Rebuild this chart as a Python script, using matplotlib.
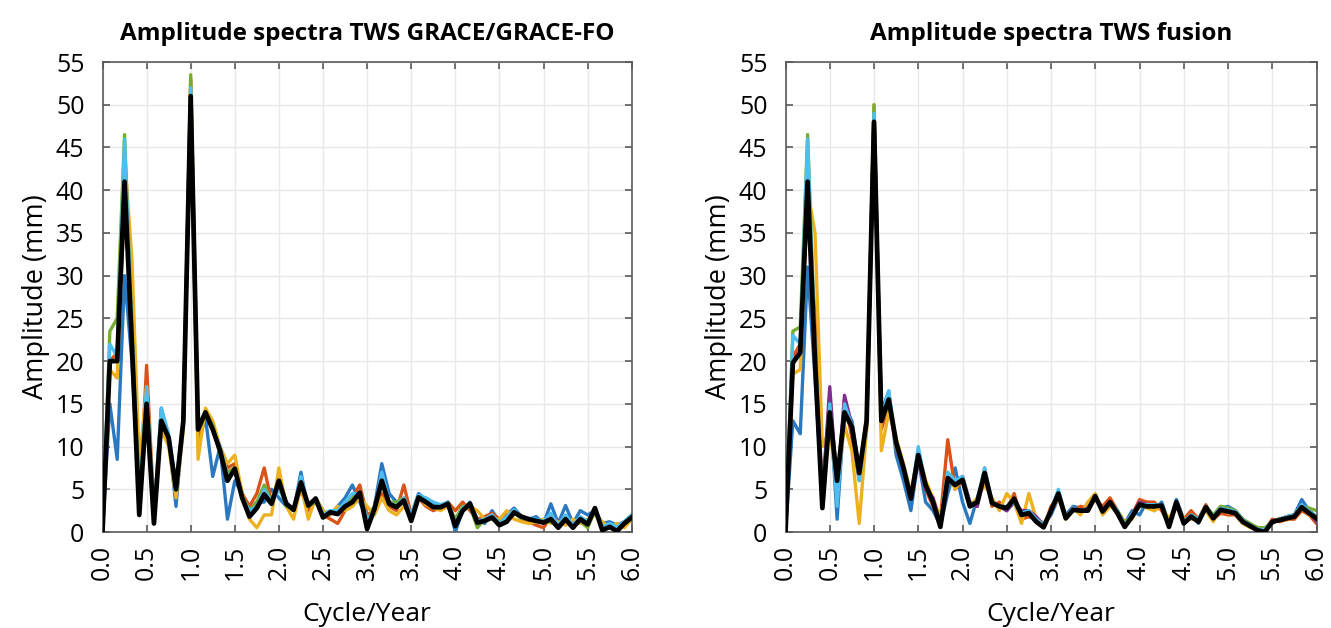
import numpy as np
import matplotlib
matplotlib.use("Agg")
import matplotlib.pyplot as plt

# ---------------- data ----------------
freq_step = 1.0 / 12.0
n_freq = 73
freq = np.arange(n_freq) * freq_step  # cycle/year

titles = ["Amplitude spectra TWS GRACE/GRACE-FO", "Amplitude spectra TWS fusion"]
x_ticks = [0.0, 0.5, 1.0, 1.5, 2.0, 2.5, 3.0, 3.5, 4.0, 4.5, 5.0, 5.5, 6.0]
y_ticks = [0, 5, 10, 15, 20, 25, 30, 35, 40, 45, 50, 55]

# GRACE/GRACE-FO panel
grace_blue = [0, 15, 8.5, 30, 20, 4, 13, 2, 14.5, 11, 3, 13, 50, 10, 13.5, 6.5, 10, 1.5, 6, 4.5,
              2.5, 3.5, 3.5, 5, 4, 3, 2.5, 7, 2.5, 4, 2.5, 2.0, 3, 4, 5.5, 3.5, 1.5, 3, 8, 4.5,
              3.5, 3.5, 2, 4.5, 3.8, 3.2, 3.0, 3.5, 0, 2.5, 3.5, 1.5, 1.0, 2.5, 1.2, 2.0, 2.8, 1.8,
              1.5, 1.8, 1.0, 3.3, 1.0, 3.1, 1.0, 2.5, 2.0, 2.5, 1.0, 1.2, 0.8, 1.2, 2.0]
grace_red = [0, 20, 21, 38, 26, 3, 19.5, 2.5, 12, 10.5, 5.5, 13, 53, 11, 14, 12, 10, 7.5, 8, 4.5,
             3, 4.5, 7.5, 3.5, 5.5, 3.5, 2.5, 5, 2.5, 4, 2, 1.5, 1.0, 2.5, 4, 5.5, 2, 2.5, 4.5, 3,
             2.5, 5.5, 2, 4, 3, 2.5, 2.8, 3.5, 2.5, 3.5, 2.5, 1.5, 1.8, 2.2, 1.5, 2.0, 2.5, 1.5,
             1.2, 0.8, 0.5, 1.8, 1.2, 1.5, 1.0, 1.2, 0.6, 2.6, 0.5, 0.8, 0.3, 0.8, 1.5]
grace_yellow = [0, 19, 18, 44, 32, 8, 17, 3, 12, 10, 4, 12, 52, 8.5, 14.5, 13, 10, 8, 9, 4.5,
                1.5, 0.5, 2, 2, 7.5, 3, 1.5, 5.5, 1.5, 4, 2.5, 2, 3, 2.5, 3, 4, 3, 2, 4, 2.5,
                2, 3, 2, 4.2, 3.2, 2.8, 2.5, 3, 1.5, 2.5, 3, 2.5, 1.5, 1.5, 1.5, 2.5, 1.5, 1.2,
                1.0, 1.2, 1.5, 1.0, 1.2, 0.8, 1.5, 1.0, 1.5, 2.0, 1.2, 0.5, 1.0, 0.5, 1.5]
grace_green = [0, 23.5, 25, 46.5, 24, 4, 16, 1.5, 13, 11, 5, 13, 53.5, 12.5, 14, 12.5, 9, 7, 7.5, 4.2,
               2.5, 3.5, 5.5, 3.5, 5.5, 3, 2.8, 5.5, 3, 3.5, 2, 2.5, 2.2, 3, 4, 4.5, 1, 3, 5.5, 3.5,
               3.5, 4, 1.8, 4, 3.5, 3, 3, 3.2, 1.5, 3, 3, 0.5, 1.5, 1.8, 1.2, 1.5, 2.2, 1.6,
               1.5, 1.4, 1.3, 1.2, 0.8, 1.4, 0.7, 1.3, 0.5, 2.5, 0.5, 0.8, 0.5, 1.0, 1.6]
grace_cyan = [0, 22, 20.5, 46, 23, 3, 17, 2, 14.5, 11.5, 5.5, 13, 52, 12, 14, 12, 10, 6.5, 7, 4,
              2.5, 3, 5, 3.5, 5, 3.5, 2.5, 6.5, 3, 4, 2, 2.5, 2.5, 3.5, 4.5, 4.5, 1.5, 2.5, 7, 3.5,
              3, 4, 2, 4.3, 4, 3.5, 3.2, 3.5, 1, 2.8, 3.2, 1.3, 1.5, 2, 1, 1.8, 2.6, 1.8,
              1.6, 1.5, 1.2, 2.2, 0.8, 2.0, 0.8, 1.8, 1.2, 2.8, 0.6, 1.0, 0.6, 1.2, 2.0]
grace_mean = [0, 20, 20, 41, 22, 2, 15, 1, 13, 11, 5, 13, 51, 12, 14, 12, 9.5, 6.0, 7.4, 4.0,
              1.8, 2.8, 4.4, 3.3, 6.0, 3.3, 2.6, 5.8, 3.1, 3.9, 1.7, 2.3, 2.1, 3.0, 3.5, 4.6, 0.35, 2.7, 6.0, 3.3,
              2.9, 3.7, 1.3, 4.05, 3.5, 2.9, 2.9, 3.3, 0.7, 2.5, 3.3, 1.1, 1.3, 1.7, 0.8, 1.2, 2.3, 1.8,
              1.5, 1.3, 1.1, 1.5, 0.5, 1.5, 0.5, 1.5, 0.9, 2.8, 0.2, 0.6, 0.1, 1.0, 1.7]

# Fusion panel
fusion_blue = [0, 13, 11.5, 31, 18, 4, 15.5, 1.5, 14.5, 13, 7.5, 12.5, 47, 14, 16.5, 9, 6, 2.5, 8.5, 3.5,
               2.5, 0.8, 4.5, 7.5, 3.5, 1, 4, 6.5, 3.5, 3, 2.5, 3.5, 1.5, 2.5, 1.5, 1, 2, 4, 2, 3,
               2.8, 3, 4, 2.5, 3.8, 2.5, 1, 2.5, 2, 3.5, 2.5, 3.5, 1.0, 3.8, 1.5, 2.2, 1.0, 3,
               1.8, 2.8, 3.0, 2.5, 1.5, 0.8, 0.5, 0.2, 1.0, 1.5, 1.8, 2.0, 3.8, 2.5, 1.8]
fusion_red = [0, 20.5, 22, 38, 25, 4, 16, 4, 15.5, 11, 6, 12, 48.5, 12, 15, 10, 7.5, 4, 8.5, 5,
              3, 1.5, 10.8, 5, 6, 3.5, 3, 7.5, 3, 3.5, 2.5, 4.5, 1.5, 1.8, 1.5, 0.5, 3, 4, 2, 2.5,
              3, 2.8, 3.8, 3, 4, 2.5, 1.0, 2, 3.8, 3.5, 3.5, 2.5, 1.0, 3, 1.5, 2.5, 1.5, 3.2,
              1.5, 2.2, 2.0, 2.0, 1.0, 0.8, 0.5, 0.2, 1.5, 1.2, 1.5, 1.5, 2.5, 2.0, 1.0]
fusion_yellow = [0, 18.5, 19, 40, 35, 10, 12, 5, 12.5, 9.5, 1, 12, 50, 9.5, 14, 11, 8, 4.5, 9.5, 6,
                 4, 1.5, 7, 5, 6.5, 3, 4, 5.5, 4, 2.5, 4.5, 3.5, 1, 4.5, 1.5, 1, 2.5, 4, 1.5, 2.8,
                 2, 3.5, 4.5, 2, 3, 2.5, 1.2, 1.5, 3.5, 2.8, 2.5, 3, 1.5, 3.2, 1.5, 1.5, 1.5, 2.5,
                 1.2, 3.0, 2.2, 2.5, 1.0, 0.5, 0.5, 0.5, 1.0, 1.6, 1.4, 2.0, 3.0, 2.0, 1.5]
fusion_purple = [0, 20, 21, 40, 21, 4, 17, 5, 16, 12.5, 7, 13, 49, 13.5, 15.5, 10.5, 7.5, 4, 8.5, 5,
                 4, 1, 6.5, 5.8, 6.5, 3.5, 3, 6.5, 3.5, 3, 2.5, 3.5, 2.5, 2.5, 1.8, 0.8, 2.5, 4.2, 1.8, 2.8,
                 2.5, 2.8, 4, 2.5, 3.5, 2.4, 0.8, 2.0, 3.5, 3.2, 3.0, 3.0, 0.8, 3.5, 1.2, 2.0, 1.4, 3.0,
                 1.8, 2.6, 2.5, 2.4, 1.2, 0.8, 0.3, 0.2, 1.2, 1.5, 1.8, 2.0, 2.8, 2.4, 1.2]
fusion_green = [0, 23.5, 24, 46.5, 22, 3.5, 14.5, 5.5, 14, 12, 7, 13.5, 50, 13, 15, 10.5, 7.5, 4, 9, 5.5,
                3.5, 1, 6.5, 5.5, 6, 3.2, 3.5, 7, 3.5, 3, 2.8, 3.8, 2.2, 2.3, 1.5, 0.8, 2.5, 4.5, 1.8, 2.5,
                2.5, 2.5, 4, 2.5, 3.5, 2.5, 1, 2, 3, 3, 3, 3, 0.8, 3.5, 1.2, 2, 1.5, 3,
                2.0, 3.0, 2.8, 2.5, 1.5, 1.0, 0.5, 0.5, 1.2, 1.5, 1.8, 2.0, 3.0, 2.8, 2.5]
fusion_cyan = [0, 23, 22, 46, 21, 3, 15, 3, 15, 12.5, 6, 13, 49, 13.5, 16.5, 10.5, 7.5, 4, 10, 5.5,
               3.5, 0.8, 7, 6, 6.5, 3.2, 3.5, 7.5, 3.5, 3, 3, 3.5, 2.2, 2.5, 1.5, 0.8, 2.5, 5, 1.8, 2.8,
               2.5, 2.6, 4.2, 2.5, 3.5, 2.5, 0.8, 2, 3.2, 3.2, 3.2, 3.2, 0.8, 3.5, 1.2, 2, 1.5, 3,
               1.8, 2.8, 2.6, 2.4, 1.4, 0.8, 0.3, 0.3, 1.2, 1.5, 1.8, 2.0, 3.2, 2.4, 1.8]
fusion_mean = [0, 19.8, 21, 41, 20, 2.8, 14, 6, 14, 12.3, 6.9, 13, 48, 13, 15.5, 10.5, 7.5, 3.9, 9.0, 5.5,
               3.5, 0.6, 6.3, 5.5, 6.1, 3.0, 3.5, 6.9, 3.4, 3.0, 2.8, 3.9, 2.0, 2.2, 1.2, 0.55, 2.5, 4.5, 1.6, 2.6,
               2.5, 2.5, 4.2, 2.4, 3.5, 2.2, 0.6, 1.8, 3.2, 3.0, 3.0, 3.1, 0.6, 3.5, 1.0, 1.8, 1.2, 2.9,
               1.6, 2.6, 2.4, 2.2, 1.2, 0.7, 0.2, 0.0, 1.2, 1.4, 1.6, 1.8, 2.9, 2.2, 1.6]

C_BLUE, C_RED, C_YEL, C_PUR, C_GRN, C_CYN = "#2A78C0", "#D95319", "#EDB120", "#7E2F8E", "#77AC30", "#4DBEEE"

panels = [
    ([(grace_blue, C_BLUE), (grace_red, C_RED), (grace_yellow, C_YEL),
      (grace_green, C_GRN), (grace_cyan, C_CYN)], grace_mean),
    ([(fusion_blue, C_BLUE), (fusion_red, C_RED), (fusion_yellow, C_YEL), (fusion_purple, C_PUR),
      (fusion_green, C_GRN), (fusion_cyan, C_CYN)], fusion_mean),
]

# ---------------- plot ----------------
plt.rcParams['font.family'] = ['Open Sans', 'DejaVu Sans']
W, H = 1331, 628
fig = plt.figure(figsize=(W / 100, H / 100), dpi=100)

axes_px = [(102.5, 62, 631.7, 532), (785.5, 62, 1316.5, 532)]
spine_c = "#5a5a5a"
for (x0, y0, x1, y1), (series, mean), title in zip(axes_px, panels, titles):
    ax = fig.add_axes([x0 / W, 1 - y1 / H, (x1 - x0) / W, (y1 - y0) / H])
    for vals, col in series:
        ax.plot(freq, vals, color=col, lw=2.4, zorder=2)
    ax.plot(freq, mean, color='black', lw=3.4, zorder=3)
    ax.set_xlim(0, 6)
    ax.set_ylim(0, 55)
    ax.set_xticks(x_ticks)
    ax.set_xticklabels([f"{t:.1f}" for t in x_ticks], rotation=90)
    ax.set_yticks(y_ticks)
    ax.grid(True, color="#e8e8e8", lw=1.0, zorder=0)
    ax.set_axisbelow(True)
    ax.tick_params(direction='in', length=5, width=1.2, color=spine_c, top=True, right=True,
                   labelsize=18, pad=9)
    ax.tick_params(axis='y', pad=13)
    for s in ax.spines.values():
        s.set_color(spine_c)
        s.set_linewidth(1.2)
    ax.set_title(title, fontsize=17.5, fontweight='bold', pad=16)
    ax.set_xlabel("Cycle/Year", fontsize=19, labelpad=16)
    ax.set_ylabel("Amplitude (mm)", fontsize=19.5, labelpad=4)

fig.savefig("out.png", dpi=100)
